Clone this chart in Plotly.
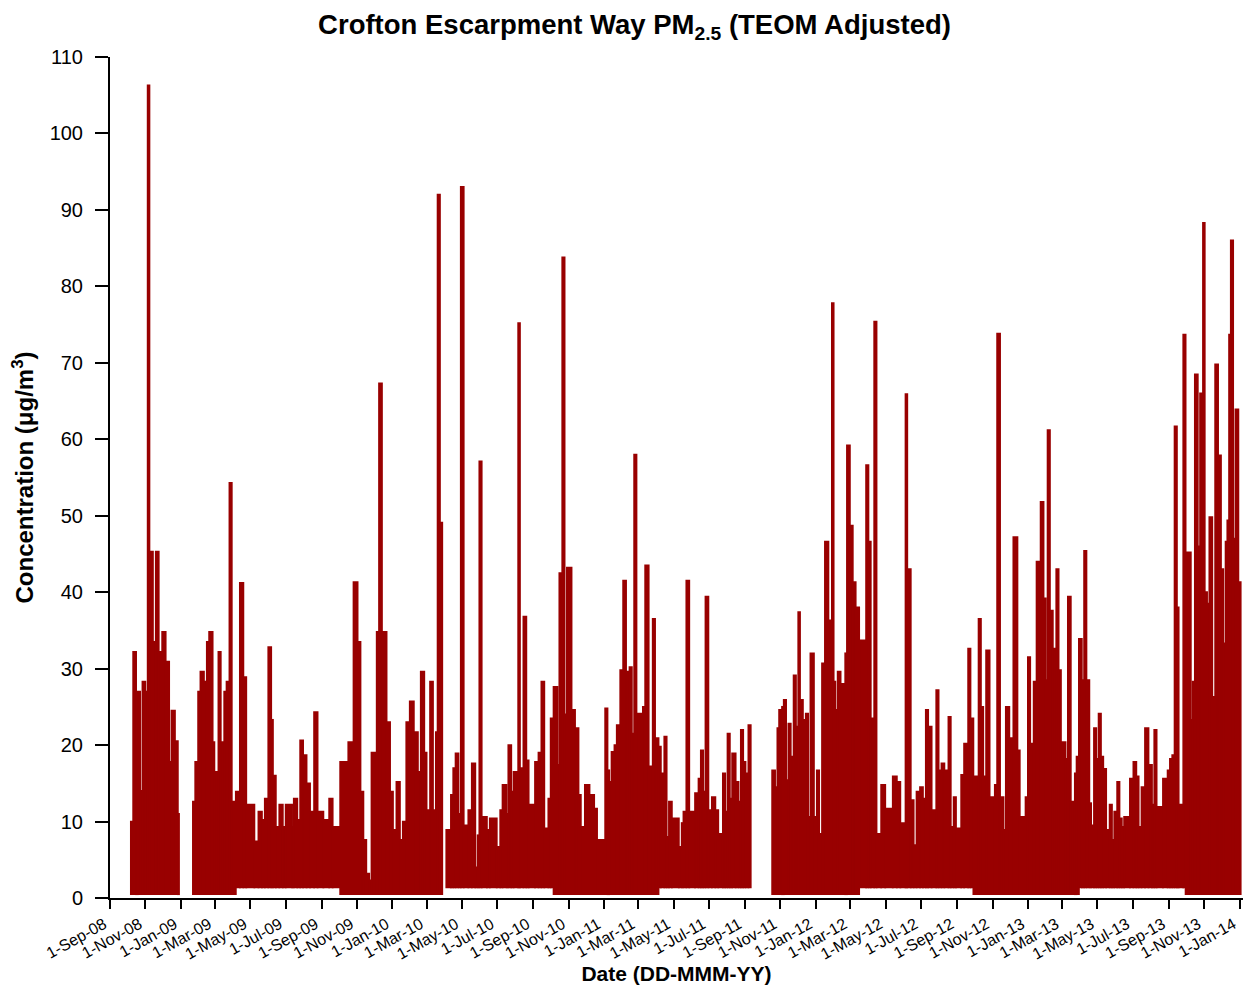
import numpy as np
import pandas as pd
import plotly.graph_objects as go

# ---------------- data ----------------
# day offsets counted from 1-Sep-2008; value = peak PM2.5 level (µg/m3) held until next point
# None marks the start of a gap with no data
day_offset = [
    36, 40, 45, 48, 52, 56, 61, 65, 68, 74, 79, 84, 90, 96, 102, 106, 112, 117, 119,
    143, 147, 152, 156, 162, 167, 171, 177, 180, 187, 191, 197, 201, 206, 210, 217, 224, 230, 235,
    249, 256, 262, 267, 273, 278, 281, 286, 292, 298, 303, 314, 317, 323, 328, 333, 339, 345, 352,
    358, 368, 378, 384, 397, 411, 420, 427, 432, 437, 442, 447, 451, 460, 464, 469, 477, 483, 488,
    494, 500, 505, 511, 517, 524, 531, 536, 542, 546, 552, 557, 562, 565, 569, 573,
    580, 588, 592, 596, 601, 605, 610, 618, 624, 630, 634, 637, 641, 650, 655, 667, 673, 677, 684,
    687, 692, 696, 704, 707, 713, 718, 722, 733, 739, 744, 749, 756, 760, 765, 772, 775, 780, 784,
    788, 796, 802, 808, 812, 819, 827, 835, 840, 854, 858, 861, 865, 870, 874, 880, 885, 890, 896,
    900, 904, 908, 919, 923, 929, 936, 940, 946, 950, 956, 960, 964, 969, 981, 986, 989, 994, 999,
    1009, 1015, 1019, 1023, 1027, 1032, 1038, 1044, 1049, 1057, 1061, 1065, 1069, 1073, 1079, 1084,
    1088, 1092, 1096, 1101, 1105,
    1142, 1147, 1151, 1154, 1159, 1162, 1166, 1170, 1174, 1179, 1183, 1187, 1190, 1195, 1200, 1204,
    1208, 1214, 1219, 1223, 1228, 1233, 1239, 1245, 1248, 1251, 1255, 1260, 1268, 1271, 1276, 1281,
    1286, 1292, 1304, 1308, 1312, 1318, 1322, 1330, 1337, 1350, 1357, 1363, 1372, 1375, 1381, 1386,
    1391, 1397, 1402, 1407, 1411, 1417, 1425, 1429, 1434, 1439, 1446, 1450, 1455, 1459, 1468, 1473,
    1480, 1484, 1489, 1498, 1502, 1506, 1511, 1517, 1526, 1530, 1535, 1541, 1545, 1551, 1558, 1565,
    1569, 1579, 1583, 1587, 1593, 1598, 1605, 1610, 1614, 1617, 1621, 1626, 1632, 1636, 1640, 1648,
    1652, 1657, 1664, 1667, 1671, 1676, 1680, 1684, 1689, 1692, 1697, 1701, 1705, 1709, 1713, 1718,
    1724, 1728, 1732, 1737, 1741, 1745, 1749, 1759, 1765, 1770, 1774, 1779, 1785, 1791, 1797, 1801,
    1805, 1816, 1824, 1828, 1832, 1836, 1840, 1843, 1851, 1855, 1864, 1867, 1871, 1876, 1880, 1885,
    1888, 1892, 1896, 1901, 1906, 1911, 1916, 1920, 1924, 1927, 1930, 1933, 1937, 1941, 1946, 1950,
]
pm25_peak = [
    10, 32.2, 19.8, 27, 14, 28.3, 27, 106.3, 45.3, 33.5, 45.3, 32.2, 34.8, 30.9, 17.8, 24.5, 20.5, 11, None,
    12.6, 17.8, 27, 29.6, 28.3, 33.5, 34.8, 20.4, 16.5, 32.2, 20.4, 27, 28.3, 54.3, 12.6, 13.9, 41.2, 28.9, 12.2,
    7.4, 11.3, 10.2, 13, 32.8, 23.3, 16, 9.3, 12.2, 9.3, 12.2, 9.3, 13, 10.2, 20.6, 18.7, 15, 11.3, 24.3,
    11.3, 10.2, 13, 9.3, 17.8, 20.4, 41.3, 33.5, 13.9, 7.6, 3.2, 2.3, 19, 34.8, 67.3, 34.8, 23, 13.9, 8.9,
    15.2, 7.6, 10, 23, 25.7, 21.7, 16.5, 29.6, 19, 11.5, 28.3, 11.5, 21.7, 92, 49.1, None,
    8.9, 13.5, 17, 18.9, 11, 93, 9.5, 11.5, 17.6, 4, 8.2, 57.1, 10.6, 8.9, 10.4, 6.7, 11.5, 14.8, 11,
    20, 13.9, 16.5, 75.2, 17, 36.8, 18, 12.2, 17.8, 19, 28.3, 9.1, 13, 23.5, 27.6, 17.4, 42.5, 83.8, 24,
    43.2, 24.6, 22.2, 13.5, 9.3, 14.8, 13.5, 11.7, 7.6, 24.8, 16.7, 15.2, 19.1, 20, 22.6, 29.8, 41.5, 29.6, 30.2,
    21.5, 58, 24.1, 25, 43.5, 17.2, 36.5, 20.9, 19.8, 16.3, 21.1, 8, 12.6, 10.4, 6.7, 9.8, 11.3, 41.5, 11.3,
    13.7, 15.6, 19.3, 13.9, 39.4, 11.5, 13.2, 11.5, 8.4, 16.3, 11.3, 21.5, 13, 18.9, 15.2, 12.6,
    22, 17.8, 16.3, 22.6, None,
    16.7, 14.5, 22.2, 24.6, 25, 25.9, 15.4, 22.8, 18.5, 29.1, 22.4, 37.4, 25.9, 23.3, 24.1, 10.6,
    32, 10.6, 16.7, 8.4, 30.7, 46.6, 36.3, 77.8, 28.3, 24.6, 29.6, 28, 32, 59.2, 48.7, 41.3,
    38, 33.7, 56.6, 46.6, 23.5, 75.4, 8.4, 14.8, 11.7, 15.9, 15.2, 9.8, 65.9, 43, 12.8, 6.9,
    13.9, 14.5, 13, 24.6, 22.4, 11.5, 27.2, 16.7, 17.6, 16.7, 23.7, 9.3, 13.2, 9.1, 16.1, 20.2,
    32.6, 23.5, 15.9, 36.5, 25, 15.9, 32.4, 13.2, 14.8, 73.8, 13.2, 8.9, 25, 20.9, 47.2, 19.3,
    10.6, 13.2, 31.5, 20.2, 28.3, 44, 51.8, 39.2, 28.5, 61.2, 37.6, 32.6, 43, 29.8, 20.4, 18.2,
    39.4, 12.6, 16.3, 18.5, 33.9, 28.5, 45.4, 28.5, 12.4, 9.5, 22.2, 18.2, 24.1, 18.5, 16.9, 8.9,
    12.2, 7.6, 11.3, 15.2, 10.4, 9.3, 10.6, 15.6, 17.8, 15.9, 9.3, 14.5, 22.2, 17.4, 12.2, 22,
    11.9, 15.6, 16.7, 18.2, 18.7, 61.7, 38, 12.2, 73.7, 45.2, 23.3, 28.3, 68.5, 46, 66, 88.3,
    40, 38.5, 49.8, 26.3, 69.8, 57.9, 43, 33.3, 46.6, 49.4, 73.7, 86, 47, 63.9, 41.3, None,
]
# lowest hourly level, by period (day offset where the period starts)
floor_day = [0, 216, 395, 574, 761, 945, 1106, 1292, 1488, 1670, 1852]
floor_val = [0.5, 1.4, 0.5, 1.4, 0.5, 1.4, 0.5, 1.4, 0.5, 1.4, 0.5]

tick_labels = [
    "1-Sep-08", "1-Nov-08", "1-Jan-09", "1-Mar-09", "1-May-09", "1-Jul-09", "1-Sep-09", "1-Nov-09",
    "1-Jan-10", "1-Mar-10", "1-May-10", "1-Jul-10", "1-Sep-10", "1-Nov-10", "1-Jan-11", "1-Mar-11",
    "1-May-11", "1-Jul-11", "1-Sep-11", "1-Nov-11", "1-Jan-12", "1-Mar-12", "1-May-12", "1-Jul-12",
    "1-Sep-12", "1-Nov-12", "1-Jan-13", "1-Mar-13", "1-May-13", "1-Jul-13", "1-Sep-13", "1-Nov-13",
    "1-Jan-14",
]

# ---------------- build ----------------
RED = "#990000"
FONT = "Liberation Sans, Arial, sans-serif"
start = pd.Timestamp("2008-09-01")

days = np.array(day_offset, dtype=float)
peaks = np.array([np.nan if v is None else v for v in pm25_peak], dtype=float)
nxt = np.append(days[1:], days[-1] + 2)
width_ms = (nxt - days) * 86400000.0
floors = np.array(floor_val)[np.searchsorted(floor_day, days, side="right") - 1]
ok = ~np.isnan(peaks)

x_dates = start + pd.to_timedelta(days[ok], unit="D")
tick_dates = [pd.to_datetime(t, format="%d-%b-%y") for t in tick_labels]

fig = go.Figure()
fig.add_trace(go.Bar(
    x=x_dates, y=peaks[ok] - floors[ok], base=floors[ok],
    width=width_ms[ok], offset=0,
    marker=dict(color=RED, line=dict(color=RED, width=1.8)),
    hoverinfo="skip", showlegend=False,
))

x_end = tick_dates[-1] + pd.Timedelta(days=6)
fig.update_layout(
    width=1248, height=978,
    margin=dict(l=102, r=13, t=49, b=88),
    paper_bgcolor="white", plot_bgcolor="white",
    font=dict(family=FONT, color="black"),
    title=dict(text="<b>Crofton Escarpment Way PM<sub>2.5</sub> (TEOM Adjusted)</b>",
               x=0.502, xref="container", y=0.983, yref="container",
               xanchor="center", yanchor="middle", font=dict(size=27.5, family=FONT)),
    barmode="overlay",
    xaxis=dict(
        type="date", range=[start, x_end], automargin=False,
        tickvals=tick_dates, ticktext=tick_labels, tickangle=-29,
        tickfont=dict(size=16, family=FONT), ticklabelshift=-6,
        showline=True, linecolor="black", linewidth=2,
        ticks="outside", ticklen=9, tickwidth=2, tickcolor="black",
        showgrid=False, zeroline=False,
        title=dict(text="<b>Date (DD-MMM-YY)</b>", font=dict(size=21, family=FONT), standoff=2),
    ),
    yaxis=dict(
        range=[0, 110], tick0=0, dtick=10, automargin=False,
        tickfont=dict(size=20, family=FONT), ticklabelstandoff=8,
        showline=True, linecolor="black", linewidth=2,
        ticks="outside", ticklen=13, tickwidth=2, tickcolor="black",
        showgrid=False, zeroline=False,
        title=dict(text="<b>Concentration (\u03bcg/m<sup>3</sup>)</b>", font=dict(size=24, family=FONT), standoff=14),
    ),
)

fig.write_html("out.html")
